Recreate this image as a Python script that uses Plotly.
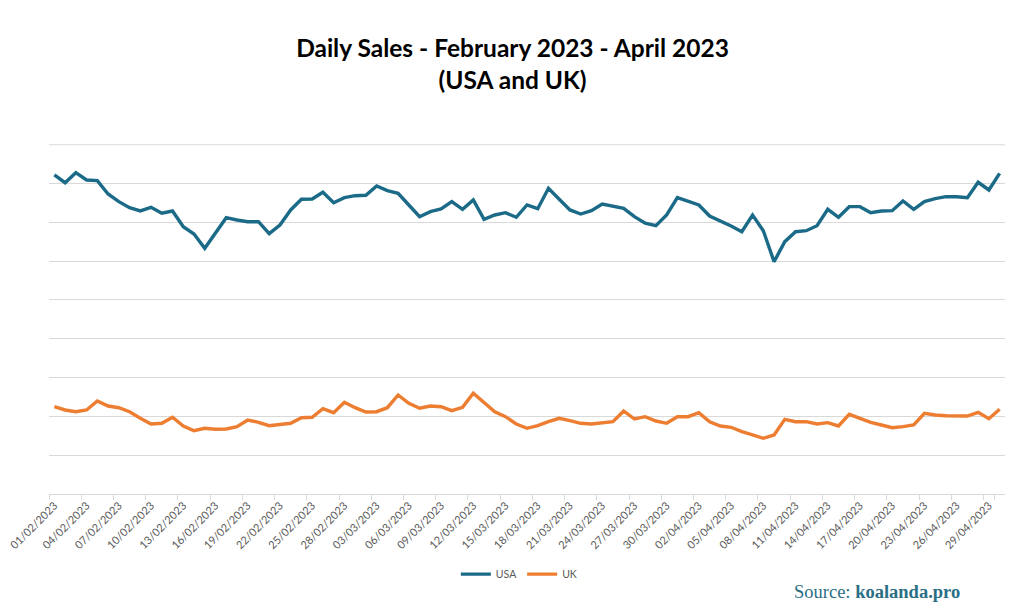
import pandas as pd
import plotly.graph_objects as go

dates = [d.strftime("%d/%m/%Y") for d in pd.date_range("2023-02-01", "2023-04-30", freq="D")]

usa = [8222, 8023, 8281, 8093, 8075, 7732, 7534, 7379, 7294, 7389,
       7235, 7294, 6889, 6701, 6332, 6719, 7121, 7062, 7018, 7018,
       6709, 6933, 7320, 7595, 7603, 7776, 7508, 7637, 7688, 7698,
       7938, 7817, 7750, 7448, 7147, 7276, 7345, 7534, 7338, 7577,
       7080, 7191, 7250, 7131, 7448, 7353, 7879, 7595, 7320, 7216,
       7302, 7474, 7423, 7363, 7147, 6977, 6915, 7191, 7637, 7552,
       7448, 7165, 7044, 6907, 6760, 7191, 6786, 5987, 6503, 6760,
       6786, 6915, 7338, 7131, 7405, 7405, 7250, 7294, 7302, 7552,
       7338, 7534, 7611, 7662, 7662, 7637, 8034, 7835, 8265]

uk = [2250, 2165, 2121, 2165, 2397, 2268, 2224, 2121, 1951, 1804,
      1822, 1977, 1753, 1631, 1693, 1668, 1675, 1735, 1907, 1848,
      1760, 1796, 1822, 1966, 1977, 2198, 2095, 2363, 2224, 2113,
      2121, 2224, 2552, 2338, 2209, 2268, 2250, 2147, 2235, 2595,
      2363, 2121, 1992, 1804, 1693, 1760, 1863, 1951, 1889, 1822,
      1804, 1838, 1863, 2139, 1933, 1992, 1881, 1822, 1992, 1992,
      2095, 1863, 1753, 1719, 1606, 1521, 1436, 1521, 1925, 1863,
      1863, 1804, 1838, 1753, 2054, 1951, 1848, 1778, 1709, 1735,
      1778, 2080, 2036, 2018, 2003, 2010, 2106, 1941, 2183]

y_grid = [0, 1000, 2000, 3000, 4000, 5000, 6000, 7000, 8000, 9000]
tick_labels = dates[::3]

fig = go.Figure()
fig.add_trace(go.Scatter(x=dates, y=usa, name="USA", mode="lines",
                         line=dict(color="#1B6B88", width=3.4)))
fig.add_trace(go.Scatter(x=dates, y=uk, name="UK", mode="lines",
                         line=dict(color="#ED7D31", width=3.4)))

# page body has an 8px default margin, so the figure is 1016x606
fig.update_layout(
    width=1016, height=606,
    margin=dict(l=41, r=19, t=136, b=120, autoexpand=False),
    paper_bgcolor="white", plot_bgcolor="white",
    title=dict(text="Daily Sales - February 2023 - April 2023<br>(USA and UK)",
               x=0.4966, xanchor="center", y=0.919, yanchor="middle",
               font=dict(family="Lato", size=24.5, color="#000000", weight="bold")),
    legend=dict(orientation="h", x=0.492, xanchor="center", y=-0.229, yanchor="middle",
                font=dict(family="Lato", size=10.5, color="#595959"),
                itemwidth=30, tracegroupgap=0),
    showlegend=True,
    font=dict(family="Lato"),
)
fig.update_xaxes(type="category", tickmode="array", tickvals=tick_labels, ticktext=tick_labels,
                 tickson="boundaries", tickangle=-45, ticks="outside", ticklen=5,
                 tickcolor="#d9d9d9", showline=True, linecolor="#d9d9d9", linewidth=1,
                 showgrid=False, range=[-0.5, len(dates) - 0.5], automargin=False,
                 tickfont=dict(family="Lato", size=11, color="#595959"))
fig.update_yaxes(range=[0, 9020], tickmode="array", tickvals=y_grid, showticklabels=False,
                 showgrid=True, gridcolor="#d9d9d9", gridwidth=1, zeroline=False,
                 showline=False, automargin=False)

# top gridline (plotly drops gridlines lying on the plot-area edge)
fig.add_shape(type="line", xref="paper", yref="y", x0=0, x1=1, y0=y_grid[-1], y1=y_grid[-1],
              line=dict(color="#d9d9d9", width=1), layer="below")

fig.add_annotation(xref="paper", yref="paper", x=0.955, y=-0.28, xanchor="right", yanchor="middle",
                   text="Source: <b>koalanda.pro</b>", showarrow=False,
                   font=dict(family="Liberation Serif", size=18.5, color="#2A6F85"))

fig.write_html("out.html")
